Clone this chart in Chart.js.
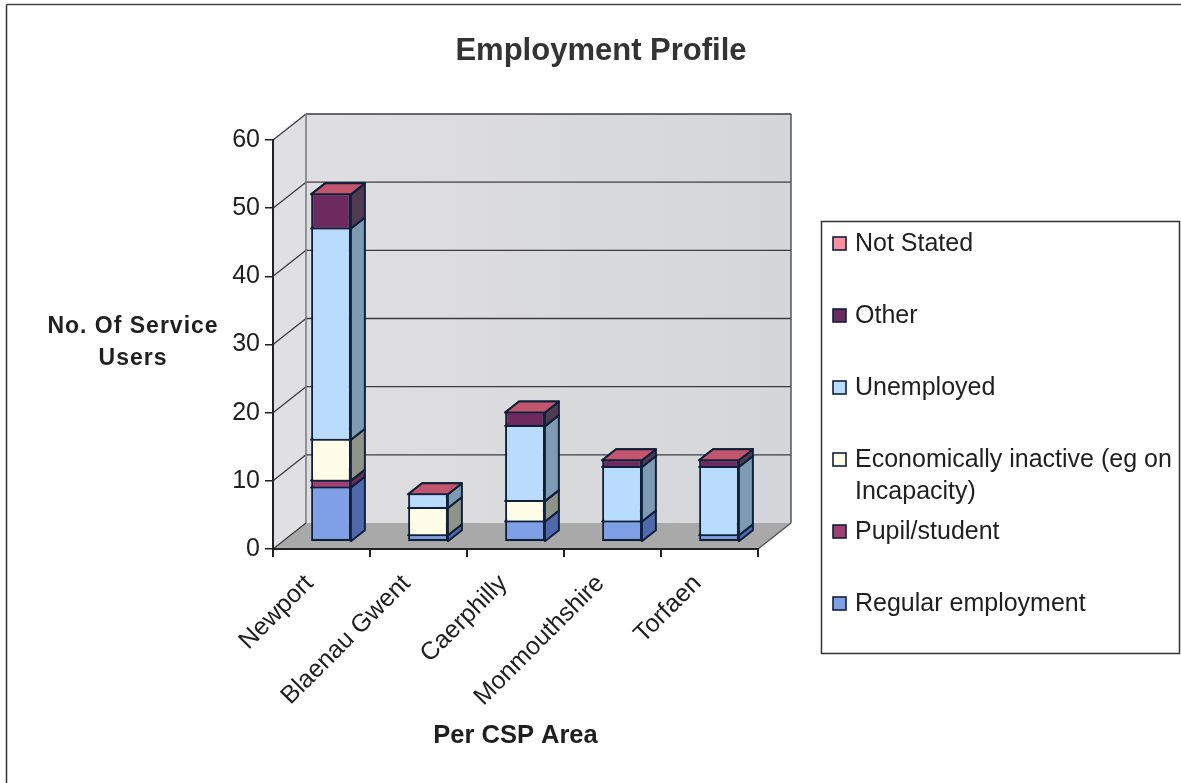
<!DOCTYPE html>
<html><head><meta charset="utf-8">
<style>html,body{margin:0;padding:0;background:#fff}canvas{display:block}</style>
<script src="https://cdn.jsdelivr.net/npm/chart.js@4"></script>
</head><body><canvas id="c" width="1181" height="783"></canvas>
<script>
const categories = ['Newport','Blaenau Gwent','Caerphilly','Monmouthshire','Torfaen'];
const regularEmployment = [8,1,3,3,1];
const pupilStudent = [1,0,0,0,0];
const economicallyInactive = [6,4,3,0,0];
const unemployed = [31,2,11,8,10];
const other = [5,0,2,1,1];
const notStated = [0,0,0,0,0];
const seriesLabels = ['Regular employment','Pupil/student','Economically inactive (eg on|Incapacity)','Unemployed','Other','Not Stated'];
const frontColors = ['#7f9fe6','#a23f72','#fffde8','#b9dcfd','#6c2a5f','#ff8f9f'];
const sideColors = ['#5068ac','#6b2f57','#8f9488','#7d9bb2','#4f3c52','#c2566e'];
const yTicks = [0,10,20,30,40,50,60];
const DX=33,DY=26,BDX=14,BDY=11,SX=9.5,SY=-7;
const FONT='"Liberation Sans", Arial, sans-serif';
const INK='#1f1f1f', EDGE='#10203a';
const values=[regularEmployment,pupilStudent,economicallyInactive,unemployed,other,notStated];

function poly(ctx,pts,fill,stroke,w){ctx.beginPath();pts.forEach((p,i)=>i?ctx.lineTo(p[0],p[1]):ctx.moveTo(p[0],p[1]));ctx.closePath();
 if(fill){ctx.fillStyle=fill;ctx.fill();} if(stroke){ctx.strokeStyle=stroke;ctx.lineWidth=w;ctx.lineJoin='round';ctx.stroke();}}
function line(ctx,a,b,c,d,col,w){ctx.beginPath();ctx.moveTo(a,b);ctx.lineTo(c,d);ctx.strokeStyle=col;ctx.lineWidth=w;ctx.stroke();}

const depth={id:'depth',
 beforeDraw(chart){const ctx=chart.ctx,a=chart.chartArea,y=chart.scales.y;
  ctx.save();ctx.fillStyle='#fff';ctx.fillRect(0,0,1181,783);
  line(ctx,6.5,4.5,1181,4.5,'#444',1.5);line(ctx,6.5,4.5,6.5,783,'#333',1.5);
  const g=ctx.createLinearGradient(a.left+DX,0,a.right+DX,0);g.addColorStop(0,'#dfdfe1');g.addColorStop(1,'#d5d6d9');
  poly(ctx,[[a.left+DX,a.top-DY],[a.right+DX,a.top-DY],[a.right+DX,a.bottom-DY],[a.left+DX,a.bottom-DY]],g);
  poly(ctx,[[a.left,a.top],[a.left+DX,a.top-DY],[a.left+DX,a.bottom-DY],[a.left,a.bottom]],'#e0e0e3');
  poly(ctx,[[a.left,a.bottom],[a.right,a.bottom],[a.right+DX,a.bottom-DY],[a.left+DX,a.bottom-DY]],'#a9a9a9');
  yTicks.forEach(v=>{const p=y.getPixelForValue(v);
   if(v>0) line(ctx,a.left+DX,p-DY,a.right+DX,p-DY,'#3c3c40',1.3);
   line(ctx,a.left,p,a.left+DX,p-DY,'#3c3c40',1.3);});
  line(ctx,a.left+DX,a.top-DY,a.left+DX,a.bottom-DY,'#77787c',1.5);
  line(ctx,a.right+DX,a.top-DY,a.right+DX,a.bottom-DY,'#55565a',1.5);
  line(ctx,a.right,a.bottom,a.right+DX,a.bottom-DY,'#55565a',1.5);
  ctx.restore();},
 beforeDatasetsDraw(chart){const ctx=chart.ctx;ctx.save();ctx.translate(SX,SY);
  chart.data.datasets.forEach((d,di)=>{chart.getDatasetMeta(di).data.forEach((b,i)=>{
    const r=b.x+b.width/2,l=b.x-b.width/2,t=b.y,bo=b.base;
    if(d.data[i]>0) poly(ctx,[[r,t],[r+BDX,t-BDY],[r+BDX,bo-BDY],[r,bo]],sideColors[di],EDGE,2);
    if(d.data[i]>0||di===5) poly(ctx,[[l,t],[l+BDX,t-BDY],[r+BDX,t-BDY],[r,t]],di===5?sideColors[5]:frontColors[di],EDGE,2);
  });});ctx.restore();},
 beforeDatasetDraw(chart){chart.ctx.save();chart.ctx.translate(SX,SY);},
 afterDatasetDraw(chart){chart.ctx.restore();},
 afterDraw(chart){const ctx=chart.ctx;ctx.save();ctx.textBaseline='middle';ctx.textAlign='center';ctx.fillStyle=INK;
  ctx.font='bold 31px '+FONT;ctx.fillStyle='#333';ctx.fillText('Employment Profile',601,51);ctx.fillStyle=INK;
  ctx.font='bold 23px '+FONT;ctx.letterSpacing='1px';ctx.fillText('No. Of Service',133,327);ctx.fillText('Users',133,359);ctx.letterSpacing='0px';
  // legend
  ctx.strokeStyle='#333';ctx.lineWidth=1.5;ctx.strokeRect(821.5,221.5,358,432);
  ctx.textAlign='left';ctx.font='25px '+FONT;
  const rows=[243,315,387,459,531,603];
  rows.forEach((y,k)=>{const di=5-k,lines=seriesLabels[di].split('|');
   ctx.fillStyle=frontColors[di];ctx.fillRect(833,y-6,13,13);ctx.strokeStyle=EDGE;ctx.lineWidth=1.6;ctx.strokeRect(833,y-6,13,13);
   ctx.fillStyle=INK;lines.forEach((s,n)=>ctx.fillText(s,855,y+1.5+n*32));});
  ctx.restore();}
};

new Chart(document.getElementById('c'),{type:'bar',
 data:{labels:categories,datasets:values.map((v,i)=>({label:seriesLabels[i].replace('|',' '),data:v,backgroundColor:frontColors[i],borderColor:EDGE,borderWidth:{top:1,bottom:i===0?2.5:1,left:2,right:2},borderSkipped:false,clip:false,barPercentage:0.41,categoryPercentage:1}))},
 options:{responsive:false,animation:false,devicePixelRatio:1,
  layout:{padding:{left:0,top:140,right:423,bottom:0}},
  plugins:{legend:{display:false},title:{display:false},tooltip:{enabled:false}},
  scales:{
   x:{stacked:true,offset:true,
    grid:{drawOnChartArea:false,drawTicks:true,tickLength:8,tickColor:'#222',lineWidth:2,offset:true},
    border:{color:'#222',width:2},
    ticks:{minRotation:45,maxRotation:45,color:INK,font:{family:FONT,size:25},padding:12,labelOffset:-12,autoSkip:false},
    title:{display:true,text:'Per CSP Area',color:INK,font:{family:FONT,size:25.5,weight:'bold'},padding:{top:0,bottom:32}},
    afterFit(s){s.height=234;s.paddingLeft=0;s.paddingRight=0;}},
   y:{stacked:true,min:0,max:60,
    grid:{drawOnChartArea:false,drawTicks:true,tickLength:8,tickColor:'#222',lineWidth:1.5},
    border:{color:'#222',width:2},
    ticks:{stepSize:10,color:INK,font:{family:FONT,size:25},padding:5},
    afterFit(s){s.width=273;s.paddingTop=0;s.paddingBottom=0;}}
  }},
 plugins:[depth]});
</script></body></html>
